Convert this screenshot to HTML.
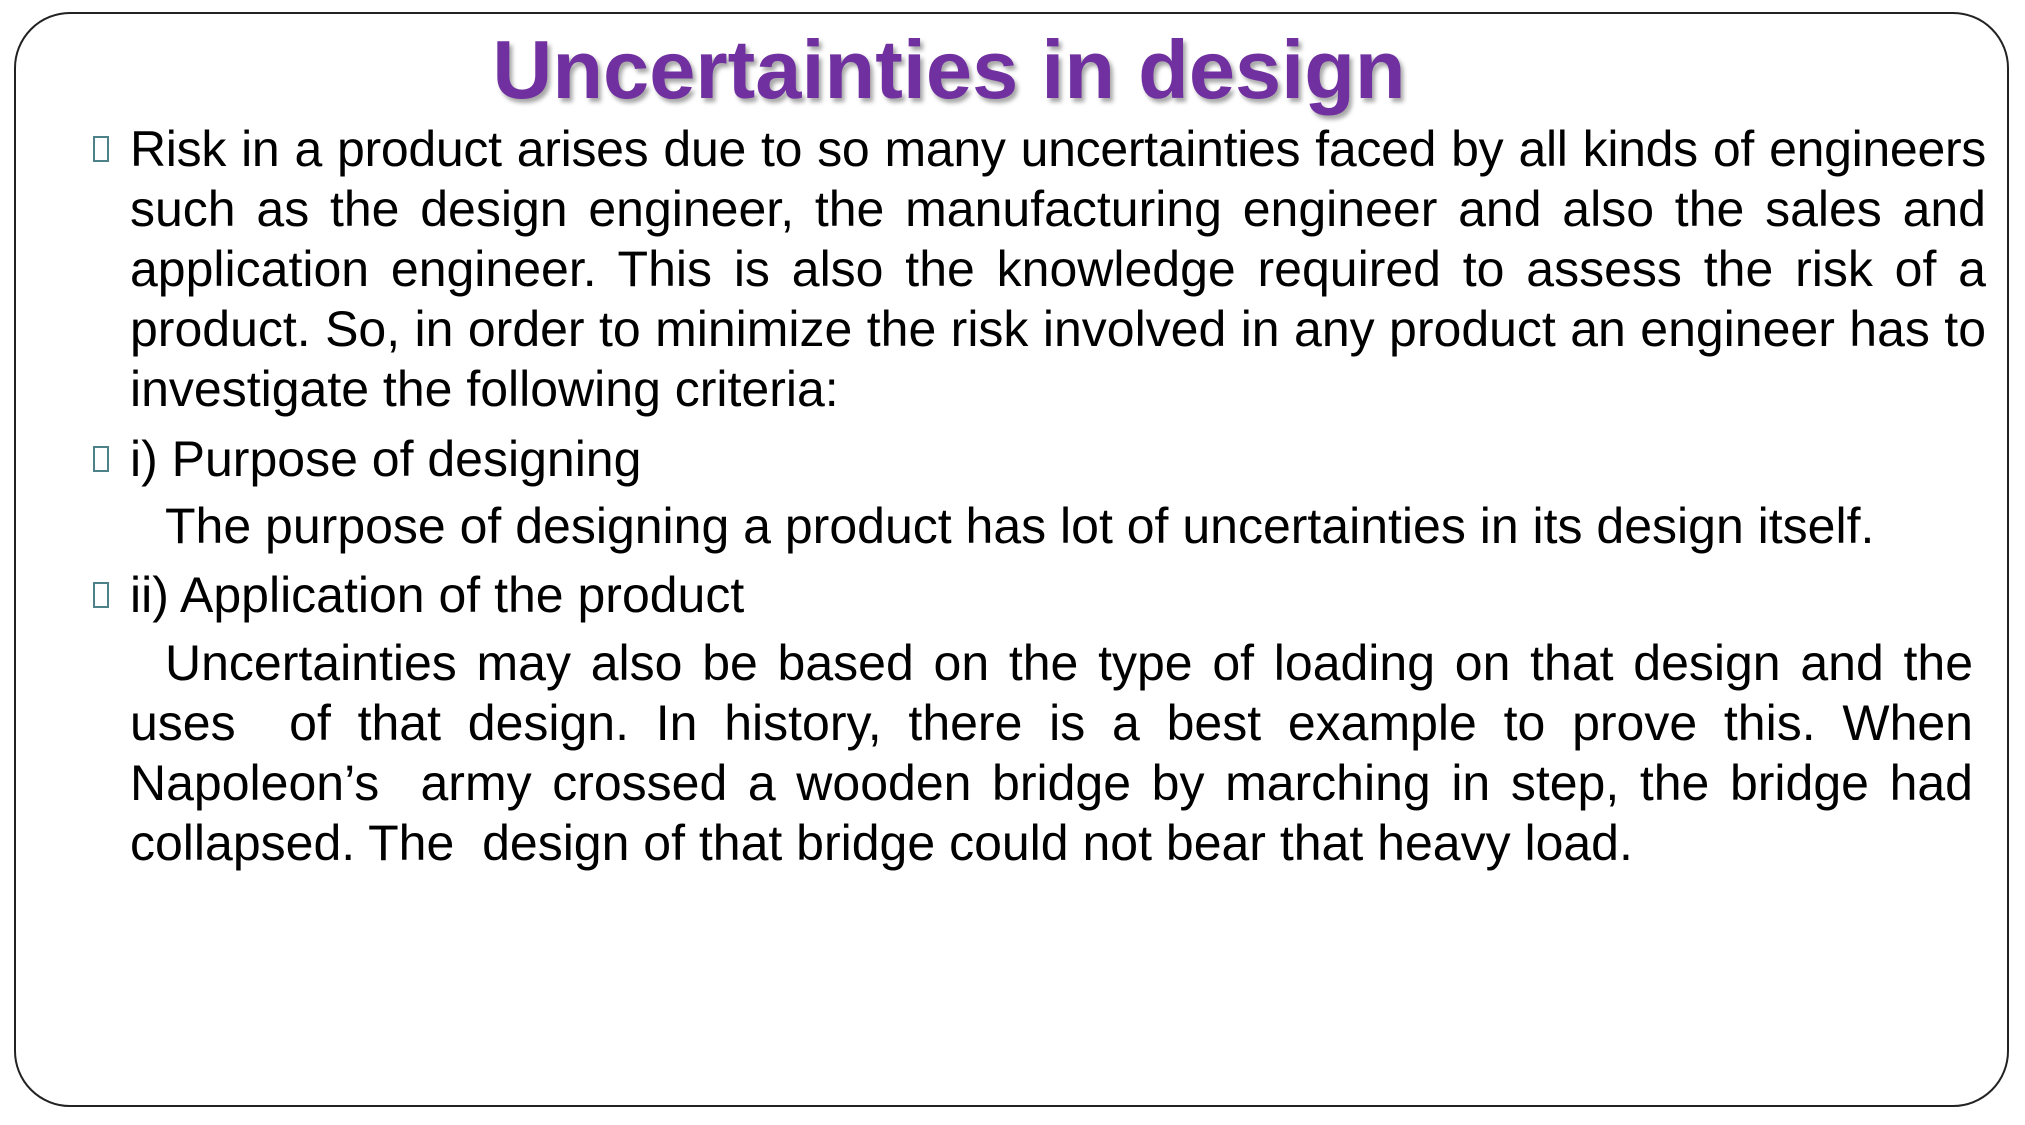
<!DOCTYPE html>
<html><head><meta charset="utf-8"><style>
html,body{margin:0;padding:0;background:#fff;}
body{width:2025px;height:1125px;position:relative;overflow:hidden;font-family:"Liberation Sans",Arial,sans-serif;}
.frame{position:absolute;left:14px;top:12px;width:1995px;height:1095px;border:2px solid #222;border-radius:56px;box-sizing:border-box;}
.title{position:absolute;left:0;width:1898px;top:27px;text-align:center;font-weight:bold;font-size:83px;line-height:85px;color:#7030a0;text-shadow:3px 4px 4px rgba(0,0,0,0.35);}
.ln{position:absolute;font-size:50px;line-height:60px;color:#000;white-space:nowrap;}
.j{text-align:justify;text-align-last:justify;white-space:normal;}
.b{position:absolute;left:93px;width:16px;height:26px;border:2px solid #4d8388;box-sizing:border-box;}
</style></head><body>
<div class="frame"></div>
<div class="title">Uncertainties in design</div>

<div class="b" style="top:136px"></div>
<div class="ln j" style="left:130px;width:1856px;top:119px;word-spacing:-4px;letter-spacing:-0.3px;">Risk in a product arises due to so many uncertainties faced by all kinds of engineers</div>
<div class="ln j" style="left:130px;width:1856px;top:179px">such as the design engineer, the manufacturing engineer and also the sales and</div>
<div class="ln j" style="left:130px;width:1856px;top:239px">application engineer. This is also the knowledge required to assess the risk of a</div>
<div class="ln j" style="left:130px;width:1856px;top:299px">product. So, in order to minimize the risk involved in any product an engineer has to</div>
<div class="ln" style="left:130px;top:359px">investigate the following criteria:</div>

<div class="b" style="top:446px"></div>
<div class="ln" style="left:130px;top:429px">i) Purpose of designing</div>
<div class="ln" style="left:165px;top:496px">The purpose of designing a product has lot of uncertainties in its design itself.</div>

<div class="b" style="top:582px"></div>
<div class="ln" style="left:130px;top:565px">ii) Application of the product</div>
<div class="ln j" style="left:165px;width:1808px;top:633px">Uncertainties may also be based on the type of loading on that design and the</div>
<div class="ln j" style="left:130px;width:1843px;top:693px">uses &nbsp;of that design. In history, there is a best example to prove this. When</div>
<div class="ln j" style="left:130px;width:1843px;top:753px">Napoleon’s &nbsp;army crossed a wooden bridge by marching in step, the bridge had</div>
<div class="ln" style="left:130px;top:813px">collapsed. The &nbsp;design of that bridge could not bear that heavy load.</div>
</body></html>
